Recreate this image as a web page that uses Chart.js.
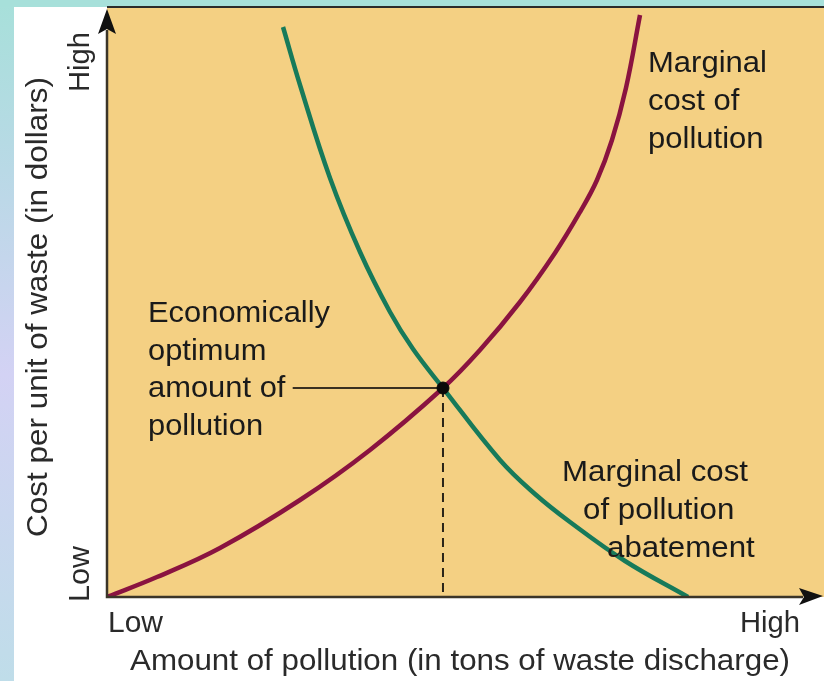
<!DOCTYPE html>
<html><head><meta charset="utf-8">
<script src="https://cdn.jsdelivr.net/npm/chart.js@4/dist/chart.umd.min.js"></script>
<style>html,body{margin:0;padding:0;background:#fff;overflow:hidden}#wrap{width:824px;height:681px;position:relative}</style>
</head><body><div id="wrap"><canvas id="c" width="824" height="681"></canvas></div>
<script>
// ---- data (relative units, 0 = Low, 100 = High) ----
const pollutionCostX = [0, 6.97, 15.76, 26.92, 36.68, 46.86, 52.02, 57.60, 62.48, 65.97, 68.34, 70.43, 72.38, 74.34];
const pollutionCostY = [0, 3.39, 8.31, 16.44, 24.92, 35.42, 41.86, 50.0, 58.31, 65.25, 70.68, 77.46, 86.27, 98.64];
const abatementCostX = [24.55, 26.92, 31.10, 35.29, 39.47, 42.68, 46.86, 54.81, 59.69, 64.57, 72.25, 81.03];
const abatementCostY = [96.61, 86.78, 71.02, 58.47, 48.31, 42.03, 35.42, 23.22, 17.46, 12.71, 6.10, 0];
const optimumX = [46.86];
const optimumY = [35.42];
const leaderX = [25.9, 46.86];
const xTickLabels = ['Low', 'High'];
const yTickLabels = ['Low', 'High'];
const xTitle = 'Amount of pollution (in tons of waste discharge)';
const yTitle = 'Cost per unit of waste (in dollars)';
const pollutionLabel = ['Marginal', 'cost of', 'pollution'];
const abatementLabel = ['Marginal cost', 'of pollution', 'abatement'];
const optimumLabel = ['Economically', 'optimum', 'amount of', 'pollution'];

const pts = (xs, ys) => xs.map((x, i) => ({x: x, y: ys[i]}));

const FONT = '"Liberation Sans", Arial, Helvetica, sans-serif';
function measure(ctx, s, size) { ctx.font = size + 'px ' + FONT; return ctx.measureText(s).width; }
function drawText(ctx, s, x, y, size, sx, rot, color) {
  ctx.save();
  ctx.font = size + 'px ' + FONT;
  ctx.fillStyle = color || '#1a1a1a';
  ctx.textAlign = 'left'; ctx.textBaseline = 'alphabetic';
  ctx.translate(x, y);
  if (rot) ctx.rotate(rot);
  ctx.scale(sx, 1);
  ctx.fillText(s, 0, 0);
  ctx.restore();
}
function fitText(ctx, s, x, y, size, w, rot, color) {
  const m = measure(ctx, s, size);
  drawText(ctx, s, x, y, size, w / m, rot, color);
}

const decor = {
  id: 'decor',
  beforeDraw(chart) {
    const ctx = chart.ctx, a = chart.chartArea;
    ctx.save();
    ctx.fillStyle = '#ffffff';
    ctx.fillRect(0, 0, chart.width, chart.height);
    const g = ctx.createLinearGradient(0, 0, 0, chart.height);
    g.addColorStop(0, '#a7e0da');
    g.addColorStop(0.25, '#b9d9e6');
    g.addColorStop(0.55, '#d3d2f4');
    g.addColorStop(1, '#bfdde9');
    ctx.fillStyle = g;
    ctx.fillRect(0, 0, 14, chart.height);
    ctx.fillStyle = '#a7e0da';
    ctx.fillRect(0, 0, chart.width, 7);
    ctx.fillStyle = '#f4d083';
    ctx.fillRect(a.left, a.top, chart.width - a.left, a.bottom - a.top);
    ctx.strokeStyle = '#2b2b2b';
    ctx.lineWidth = 2;
    ctx.beginPath(); ctx.moveTo(a.left, a.top); ctx.lineTo(chart.width, a.top); ctx.stroke();
    ctx.restore();
  },
  afterDraw(chart) {
    const ctx = chart.ctx, a = chart.chartArea;
    ctx.save();
    ctx.strokeStyle = '#3b3528';
    ctx.lineWidth = 2.5;
    ctx.beginPath();
    ctx.moveTo(a.left, 30); ctx.lineTo(a.left, a.bottom);
    ctx.lineTo(803, a.bottom);
    ctx.stroke();
    ctx.fillStyle = '#111';
    ctx.beginPath();
    ctx.moveTo(a.left, 9); ctx.lineTo(a.left + 9, 34); ctx.lineTo(a.left, 29); ctx.lineTo(a.left - 9, 34); ctx.closePath(); ctx.fill();
    ctx.beginPath();
    ctx.moveTo(823, a.bottom - 1); ctx.lineTo(799, a.bottom - 9); ctx.lineTo(804, a.bottom); ctx.lineTo(799, a.bottom + 8); ctx.closePath(); ctx.fill();
    ctx.restore();

    const S = 29;
    fitText(ctx, xTickLabels[0], 108, 632, S, 55, 0, '#2a2a2a');
    fitText(ctx, xTickLabels[1], 740, 632, S, 60, 0, '#2a2a2a');
    fitText(ctx, yTickLabels[0], 89, 602, S, 56, -Math.PI / 2, '#2a2a2a');
    fitText(ctx, yTickLabels[1], 89, 92, S, 60, -Math.PI / 2, '#2a2a2a');
    fitText(ctx, xTitle, 130, 670, S, 660, 0, '#2a2a2a');
    fitText(ctx, yTitle, 47, 537, S, 460, -Math.PI / 2, '#2a2a2a');

    let sx = 119 / measure(ctx, pollutionLabel[0], S);
    [72, 110, 148].forEach((y, i) => drawText(ctx, pollutionLabel[i], 648, y, S, sx));
    sx = 182 / measure(ctx, optimumLabel[0], S);
    [322, 360, 397, 435].forEach((y, i) => drawText(ctx, optimumLabel[i], 148, y, S, sx));
    sx = 186 / measure(ctx, abatementLabel[0], S);
    [[562, 481], [583, 519], [607, 557]].forEach((p, i) => drawText(ctx, abatementLabel[i], p[0], p[1], S, sx));
  }
};

new Chart(document.getElementById('c'), {
  type: 'line',
  data: {
    datasets: [
      { label: 'optimum', data: pts(optimumX, optimumY), showLine: false, pointRadius: 6, pointBackgroundColor: '#0a0a0a', pointBorderColor: '#0a0a0a', order: 0 },
      { label: 'Marginal cost of pollution', data: pts(pollutionCostX, pollutionCostY), borderColor: '#8a1340', borderWidth: 4.5, pointRadius: 0, tension: 0.4, fill: false, order: 1 },
      { label: 'Marginal cost of pollution abatement', data: pts(abatementCostX, abatementCostY), borderColor: '#177a5a', borderWidth: 4.5, pointRadius: 0, tension: 0.4, fill: false, order: 2 },
      { label: 'leader', data: pts(leaderX, [optimumY[0], optimumY[0]]), borderColor: '#3a3020', borderWidth: 2, pointRadius: 0, order: 3 },
      { label: 'drop', data: pts([optimumX[0], optimumX[0]], [optimumY[0], 0]), borderColor: '#2a2418', borderWidth: 2, borderDash: [9, 6], pointRadius: 0, order: 4 }
    ]
  },
  options: {
    responsive: false,
    animation: false,
    devicePixelRatio: 1,
    layout: { autoPadding: false, padding: { left: 107, right: 0, top: 7, bottom: 84 } },
    scales: {
      x: { type: 'linear', min: 0, max: 100, display: false },
      y: { type: 'linear', min: 0, max: 100, display: false }
    },
    plugins: { legend: { display: false }, tooltip: { enabled: false } },
    events: []
  },
  plugins: [decor]
});
</script>
</body></html>
